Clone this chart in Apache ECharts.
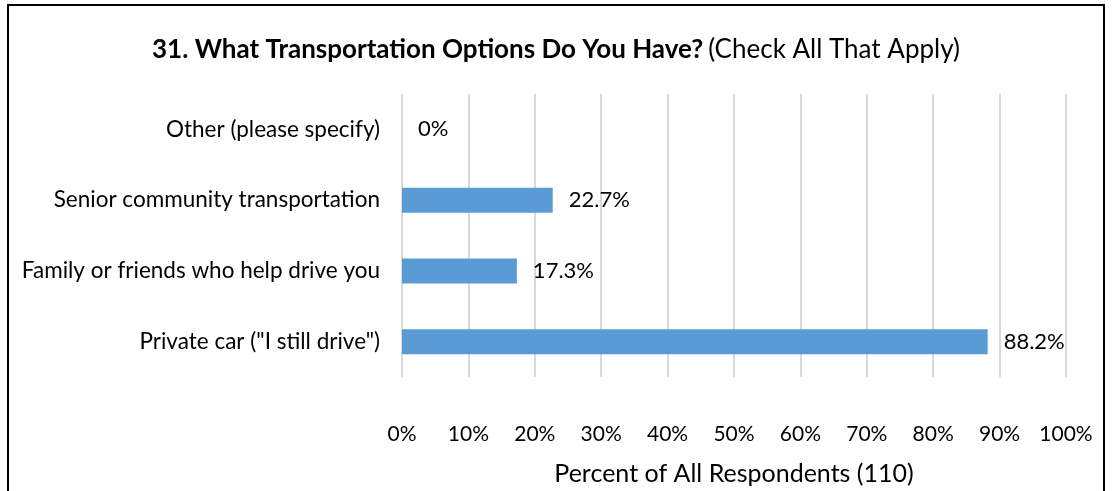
<!DOCTYPE html>
<html>
<head>
<meta charset="utf-8">
<script src="https://cdn.jsdelivr.net/npm/echarts@6/dist/echarts.min.js"></script>
<style>
  html, body { margin: 0; padding: 0; background: #fff; }
  #chart { width: 1112px; height: 491px; }
</style>
</head>
<body>
<div id="chart"></div>
<script>
// Survey question 31: transportation options (check all that apply)
const categories = [
  'Private car ("I still drive")',
  'Family or friends who help drive you',
  'Senior community transportation',
  'Other (please specify)'
];
const percentValues = [88.2, 17.3, 22.7, 0];
const tickLabels = ['0%', '10%', '20%', '30%', '40%', '50%', '60%', '70%', '80%', '90%', '100%'];

const FONT = 'Lato, "Open Sans", sans-serif';

const chart = echarts.init(document.getElementById('chart'), null, { renderer: 'canvas' });

chart.setOption({
  animation: false,
  backgroundColor: '#ffffff',
  title: {
    text: '{b|31. What Transportation Options Do You Have?} {n|(Check All That Apply)}',
    left: 'center',
    top: 32,
    textStyle: {
      fontWeight: 'normal',
      rich: {
        b: { fontFamily: FONT, fontSize: 26, fontWeight: 'bold', color: '#000' },
        n: { fontFamily: FONT, fontSize: 26, fontWeight: 'normal', color: '#000' }
      }
    }
  },
  graphic: [{
    type: 'rect',
    shape: { x: 8, y: 5, width: 1096, height: 500 },
    style: { fill: 'none', stroke: '#000', lineWidth: 2 },
    silent: true
  }],
  grid: { left: 402, right: 46, top: 94, bottom: 112 },
  xAxis: {
    type: 'value',
    min: 0,
    max: 100,
    interval: 10,
    axisLine: { show: false },
    axisTick: { show: false },
    splitLine: { show: true, lineStyle: { color: '#d9d9d9', width: 2 } },
    axisLabel: {
      margin: 47,
      fontFamily: FONT,
      fontSize: 21,
      color: '#000',
      formatter: v => tickLabels[Math.round(v / 10)]
    },
    name: 'Percent of All Respondents (110)',
    nameLocation: 'middle',
    nameGap: 84,
    nameTextStyle: { fontFamily: FONT, fontSize: 25, color: '#000' }
  },
  yAxis: {
    type: 'category',
    data: categories,
    axisLine: { show: false },
    axisTick: { show: false },
    axisLabel: { margin: 22, fontFamily: FONT, fontSize: 22.5, color: '#000' }
  },
  series: [{
    type: 'bar',
    data: percentValues,
    barWidth: 25,
    itemStyle: { color: '#5b9bd5' },
    label: {
      show: true,
      position: 'right',
      distance: 16,
      fontFamily: FONT,
      fontSize: 22,
      color: '#000',
      formatter: p => (p.value === 0 ? '0' : p.value.toFixed(1)) + '%'
    }
  }]
});
</script>
</body>
</html>
